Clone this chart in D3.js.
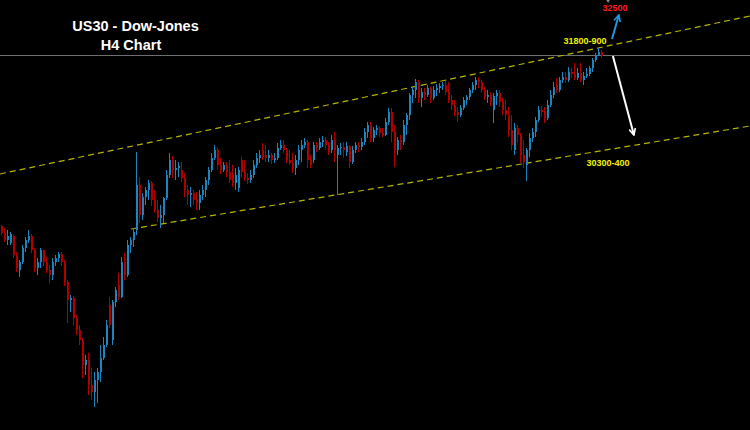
<!DOCTYPE html>
<html><head><meta charset="utf-8">
<script src="https://cdn.jsdelivr.net/npm/d3@7"></script>
<style>html,body{margin:0;padding:0;background:#000;}svg{display:block;}</style>
</head><body>
<svg id="chart" width="750" height="430"></svg>
<script>
// H4 candles (index 0..200), prices
const openP = [
29260,29155,29050,29005,29110,28825,28600,28720,28930,29050,
29110,28900,28630,28720,28900,28720,28600,28525,28720,28780,
28840,28720,28420,28150,28180,27880,27700,27550,27175,27250,
26875,26770,26950,27070,27280,27475,28075,27550,28120,28375,
28195,28720,28525,28975,29050,29200,29875,29425,29695,29800,
29905,29650,29500,29380,29425,29680,30025,30250,30100,30130,
30100,29980,29800,29725,29755,29650,29605,29725,29800,29950,
30100,30280,30400,30175,30100,30175,30070,30025,29905,29830,
30250,30070,29980,29950,30025,30175,30280,30400,30325,30280,
30325,30250,30280,30430,30475,30400,30250,30205,30130,30250,
30400,30475,30520,30250,30250,30475,30430,30520,30550,30475,
30400,30550,30325,30430,30445,30370,30460,30220,30400,30475,
30445,30520,30670,30775,30580,30700,30730,30655,30625,30820,
30970,30670,30400,30550,30520,30775,30925,31225,31300,31420,
31180,31270,31225,31330,31180,31300,31330,31360,31375,31270,
31150,31075,30970,30925,31030,31150,31195,31300,31375,31450,
31420,31300,31195,31225,31000,31210,31255,31120,31000,30925,
30700,30400,30730,30625,30325,30175,30400,30580,30670,30850,
31000,30970,30880,31075,31225,31375,31300,31450,31495,31450,
31570,31540,31480,31555,31450,31510,31540,31630,31750,31825,
31870];
const highP = [
29275,29230,29200,29170,29125,28870,28750,28975,29095,29200,
29140,28930,28780,28930,28900,28795,28675,28780,28825,28870,
28870,28750,28450,28225,28210,27925,27775,27580,27325,27355,
27130,27070,27130,27475,27595,27850,28195,28150,28345,28555,
28795,28855,29050,29095,29230,30370,29995,29755,29845,29950,
29935,29800,29650,29575,29695,30100,30355,30310,30250,30220,
30220,30055,29875,29845,29800,29770,29800,29875,29995,30145,
30355,30475,30430,30280,30220,30220,30250,30175,30130,30145,
30295,30250,30055,30100,30250,30355,30400,30505,30475,30400,
30355,30355,30505,30550,30550,30430,30400,30355,30325,30475,
30550,30580,30550,30325,30520,30520,30580,30610,30595,30520,
30625,30670,30475,30505,30520,30520,30475,30460,30520,30520,
30580,30730,30820,30820,30745,30775,30760,30730,30880,31030,
31030,30775,30595,30625,30850,30955,31255,31345,31465,31450,
31330,31330,31375,31345,31360,31390,31405,31420,31435,31420,
31225,31150,31045,31075,31195,31225,31330,31420,31495,31495,
31450,31345,31300,31270,31255,31300,31300,31180,31150,31045,
30925,30805,30775,30655,30550,30430,30655,30730,30895,31060,
31060,31045,31150,31300,31420,31480,31495,31570,31570,31645,
31630,31705,31630,31705,31570,31630,31660,31780,31855,31930,
31900];
const lowP = [
29125,29020,28975,28975,28780,28570,28495,28690,28870,29005,
28855,28570,28525,28630,28660,28555,28405,28450,28660,28720,
28660,28360,27805,27970,27775,27625,27475,26980,27025,26725,
26650,26545,26605,26920,27250,27445,27730,27475,28045,28150,
28180,28450,28495,28855,28945,29125,29305,29350,29575,29650,
29560,29455,29320,29230,29305,29650,29980,29980,29950,29995,
29920,29695,29575,29545,29575,29500,29500,29650,29695,29875,
30070,30250,30100,30040,30070,29995,29905,29845,29800,29770,
29995,29935,29890,29905,29980,30130,30205,30250,30220,30220,
30190,30205,30250,30400,30355,30205,30175,30055,30025,30175,
30220,30430,30130,30130,30205,30370,30400,30445,30400,30325,
30355,30220,29725,30325,30280,30310,30130,30190,30355,30370,
30400,30475,30580,30520,30520,30625,30595,30595,30610,30775,
30520,30145,30325,30400,30475,30625,30850,31105,31180,31105,
31045,31150,31195,31105,31150,31210,31255,31300,31225,31105,
31000,30910,30820,30895,31000,31075,31150,31255,31300,31330,
31255,31150,31105,31060,30805,31075,31045,30925,30850,30595,
30400,30325,30505,30205,30130,29935,30295,30520,30595,30820,
30895,30805,30850,31045,31180,31255,31270,31405,31405,31420,
31480,31450,31450,31420,31375,31480,31510,31570,31720,31810,
31780];
const closeP = [
29155,29050,29110,29140,28825,28630,28720,28930,29050,29110,
28900,28630,28720,28900,28720,28600,28525,28720,28780,28840,
28720,28420,28150,28180,27880,27700,27550,27175,27250,26875,
26770,26950,27070,27280,27475,27775,27775,28120,28300,28195,
28720,28525,28975,29050,29170,29875,29425,29695,29800,29905,
29650,29500,29380,29425,29680,30025,30250,30100,30130,30160,
29980,29800,29725,29755,29650,29605,29725,29800,29950,30100,
30280,30400,30175,30100,30175,30070,29950,29905,30025,30100,
30070,29980,29950,30025,30175,30280,30325,30295,30280,30325,
30250,30280,30430,30475,30400,30250,30205,30130,30250,30400,
30475,30520,30250,30175,30475,30430,30520,30550,30475,30370,
30550,30400,30430,30445,30400,30460,30220,30400,30475,30445,
30520,30670,30775,30580,30700,30730,30655,30625,30820,30970,
30670,30400,30550,30520,30775,30925,31225,31300,31420,31180,
31270,31225,31330,31180,31300,31330,31360,31375,31270,31150,
31075,30970,30925,31030,31150,31195,31300,31375,31450,31420,
31300,31195,31225,31120,31210,31255,31120,31000,30925,30700,
30475,30730,30625,30325,30220,30400,30580,30670,30850,31000,
30970,30880,31075,31225,31345,31300,31450,31495,31450,31570,
31540,31480,31555,31450,31510,31540,31630,31750,31825,31870,
31810];

// channel lines: [barIndex, price]
const upperChannel = [[-0.5, 30040], [249.5, 32410]];
const lowerChannel = [[43.2, 29215], [249.5, 30760]];
const currentPrice = 31825;
const labels = [
  {text: "32500", idx: 204.5, price: 32485, color: "#ff1a1a"},
  {text: "31800-900", idx: 194.5, price: 31990, color: "#f2f200"},
  {text: "30300-400", idx: 202.2, price: 30160, color: "#f2f200"}
];
const arrowUp = [[203.5, 32065], [205.8, 32425]];
const arrowDown = [[203.8, 31810], [210.8, 30625]];
const titleLines = ["US30 - Dow-Jones", "H4 Chart"];

const W = 750, H = 430;
const svg = d3.select("#chart");
svg.append("rect").attr("width", W).attr("height", H).attr("fill", "#000");

const x = d3.scaleLinear().domain([-0.5, 249.5]).range([0, W]);
const y = d3.scaleLinear().domain([26200, 32650]).range([H, 0]);

const BLUE = "#1a86bd", RED = "#b00000";

// current price line
svg.append("line")
  .attr("x1", 0).attr("x2", W)
  .attr("y1", Math.round(y(currentPrice)) + 0.5).attr("y2", Math.round(y(currentPrice)) + 0.5)
  .attr("stroke", "#6f6f6f").attr("stroke-width", 1);

// channel lines
const line = d3.line().x(d => x(d[0])).y(d => y(d[1]));
[upperChannel, lowerChannel].forEach(c => {
  svg.append("path").attr("d", line(c))
    .attr("fill", "none").attr("stroke", "#b8b400")
    .attr("stroke-width", 1.2).attr("stroke-dasharray", "6,4");
});

// candles
const idx = d3.range(closeP.length);
const g = svg.append("g").attr("shape-rendering", "crispEdges");
const col = i => closeP[i] >= openP[i] ? BLUE : RED;
g.selectAll("line.wick").data(idx).join("line")
  .attr("class", "wick")
  .attr("x1", i => x(i)).attr("x2", i => x(i))
  .attr("y1", i => y(highP[i])).attr("y2", i => y(lowP[i]))
  .attr("stroke", col).attr("stroke-width", 1);
g.selectAll("rect.body").data(idx).join("rect")
  .attr("class", "body")
  .attr("x", i => x(i) - 0.5).attr("width", 2)
  .attr("y", i => y(Math.max(openP[i], closeP[i])))
  .attr("height", i => Math.max(1, Math.abs(y(openP[i]) - y(closeP[i]))))
  .attr("fill", col);

// arrows
const defs = svg.append("defs");
function marker(id, color) {
  defs.append("marker").attr("id", id)
    .attr("viewBox", "0 0 10 10").attr("refX", 9).attr("refY", 5)
    .attr("markerWidth", 4).attr("markerHeight", 4).attr("orient", "auto")
    .append("path").attr("d", "M1,1 L9,5 L1,9")
    .attr("fill", "none").attr("stroke", color).attr("stroke-width", 2);
}
marker("mBlue", "#2196e0");
marker("mWhite", "#ffffff");
svg.append("path").attr("d", line(arrowUp)).attr("stroke", "#2196e0")
  .attr("stroke-width", 2).attr("fill", "none").attr("marker-end", "url(#mBlue)");
svg.append("path").attr("d", line(arrowDown)).attr("stroke", "#ffffff")
  .attr("stroke-width", 2).attr("fill", "none").attr("marker-end", "url(#mWhite)");

// small gray marker at top
svg.append("path").attr("d", `M${x(201.2)},-2 L${x(203.2)},-2 L${x(202.2)},3 Z`).attr("fill", "#8a8a8a");

// labels
svg.selectAll("text.lbl").data(labels).join("text")
  .attr("class", "lbl")
  .attr("x", d => x(d.idx)).attr("y", d => y(d.price))
  .attr("text-anchor", "middle")
  .attr("font-family", "'Liberation Sans', Arial, sans-serif")
  .attr("font-weight", "bold").attr("font-size", 9)
  .attr("fill", d => d.color).text(d => d.text);

// title
svg.selectAll("text.title").data(titleLines).join("text")
  .attr("class", "title")
  .attr("x", (d, i) => i === 0 ? 135.5 : 131)
  .attr("y", (d, i) => i === 0 ? 31 : 50)
  .attr("text-anchor", "middle")
  .attr("font-family", "'Liberation Sans', Arial, sans-serif")
  .attr("font-weight", "bold").attr("font-size", 14.5)
  .attr("fill", "#ffffff").text(d => d);
</script>
</body></html>
